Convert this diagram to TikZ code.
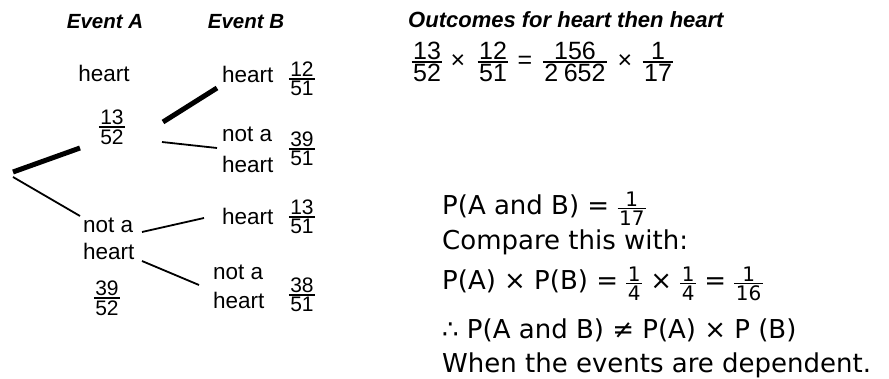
\documentclass[tikz,border=0pt]{standalone}
\usepackage{fontspec}
\setmainfont{Liberation Sans}
\newfontfamily\vfont{DejaVu Sans}
\newlength\fgap \setlength\fgap{1.5pt}
\newlength\frule \setlength\frule{1.7pt}
\newcommand\fr[3][]{\ensuremath{\vcenter{\hbox{\setbox0=\hbox{#1#2}\setbox2=\hbox{#1#3}%
 \dimen0=\wd0 \ifdim\wd2>\dimen0 \dimen0=\wd2 \fi\advance\dimen0 by 3pt
 \vbox{\hbox to\dimen0{\hfil\box0\hfil}\kern\fgap\hrule height\frule\kern\fgap\hbox to\dimen0{\hfil\box2\hfil}}}}}}
\newcommand\sfr[2]{{\setlength\frule{1.1pt}\fr[\fontsize{20}{24}\selectfont]{#1}{#2}}}
\tikzset{
 lbl/.style={inner sep=0pt, anchor=base west, font=\fontsize{22.5}{27}\selectfont},
 hdr/.style={inner sep=0pt, anchor=base, font=\fontsize{20.5}{24}\selectfont\bfseries\itshape},
 frn/.style={inner sep=0pt, font=\fontsize{21}{25}\selectfont},
 eq/.style={inner sep=0pt, font=\fontsize{25}{29}\selectfont},
 txt/.style={inner sep=0pt, anchor=base west, font=\vfont\fontsize{26}{31}\selectfont},
 heavyline/.style={line width=5pt},
 lightline/.style={line width=1.8pt},
}
\begin{document}
\begin{tikzpicture}[x=1pt,y=-1pt]
\fill[white] (0,0) rectangle (889,379);
\useasboundingbox (0,0) rectangle (889,379);
% headings
\node[hdr] (hA) at (105,29) {Event A};
\node[hdr] (hB) at (246,29) {Event B};
% event A
\node[lbl,anchor=base] (a1) at (104,82) {heart};
\node[frn] (fa1) at (112,127) {\fr{13}{52}};
\node[lbl] (a2) at (83,233) {\begin{tabular}[t]{@{}l@{}}not a\\heart\end{tabular}};
\node[frn] (fa2) at (107,298) {\fr{39}{52}};
% event B
\node[lbl] (b1) at (222,83) {heart};
\node[frn] (fb1) at (302,79) {\fr{12}{51}};
\node[lbl] (b2) at (222,142) {\begin{tabular}[t]{@{}l@{}}not a\\[4pt]heart\end{tabular}};
\node[frn] (fb2) at (302,149) {\fr{39}{51}};
\node[lbl] (b3) at (222,225) {heart};
\node[frn] (fb3) at (302,217) {\fr{13}{51}};
\node[lbl] (b4) at (213,280) {\begin{tabular}[t]{@{}l@{}}not a\\[2pt]heart\end{tabular}};
\node[frn] (fb4) at (302,295) {\fr{38}{51}};
% branch end points
\coordinate (rootU) at (13,172);
\coordinate (rootD) at (13,177);
\coordinate (a1in) at (80,148);
\coordinate (a2in) at (80,216);
\coordinate (a1outU) at (163,122);
\coordinate (a1outD) at (162,142);
\coordinate (b1in) at (217,88);
\coordinate (b2in) at (217,148);
\coordinate (a2outU) at (142,232);
\coordinate (a2outD) at (142,261);
\coordinate (b3in) at (204,218);
\coordinate (b4in) at (199,285);
\draw[heavyline] (rootU) -- (a1in);
\draw[lightline] (rootD) -- (a2in);
\draw[heavyline] (a1outU) -- (b1in);
\draw[lightline] (a1outD) -- (b2in);
\draw[lightline] (a2outU) -- (b3in);
\draw[lightline] (a2outD) -- (b4in);
% outcomes
\node[hdr,anchor=base west,font=\fontsize{22}{26}\selectfont\bfseries\itshape] (oh) at (408,28) {Outcomes for heart then heart};
\node[eq] (e1) at (427,62) {\fr{13}{52}};
\node[eq] (e2) at (458,62) {×};
\node[eq] (e3) at (493,62) {\fr{12}{51}};
\node[eq] (e4) at (525,62) {=};
\node[eq] (e5) at (575,62) {\fr{156}{2\hspace{0.22em}652}};
\node[eq] (e6) at (625,62) {×};
\node[eq] (e7) at (658,62) {\fr{1}{17}};
% conclusion
\node[txt] (t1) at (442,215) {P(A and B) = \sfr{1}{17}};
\node[txt] (t2) at (442,250) {Compare this with:};
\node[txt] (t3) at (442,290) {P(A) × P(B) = \sfr{1}{4} × \sfr{1}{4} = \sfr{1}{16}};
\node[txt] (t4) at (442,338) {∴ P(A and B) ≠ P(A) × P (B)};
\node[txt] (t5) at (442,372) {When the events are dependent.};
\end{tikzpicture}
\end{document}
